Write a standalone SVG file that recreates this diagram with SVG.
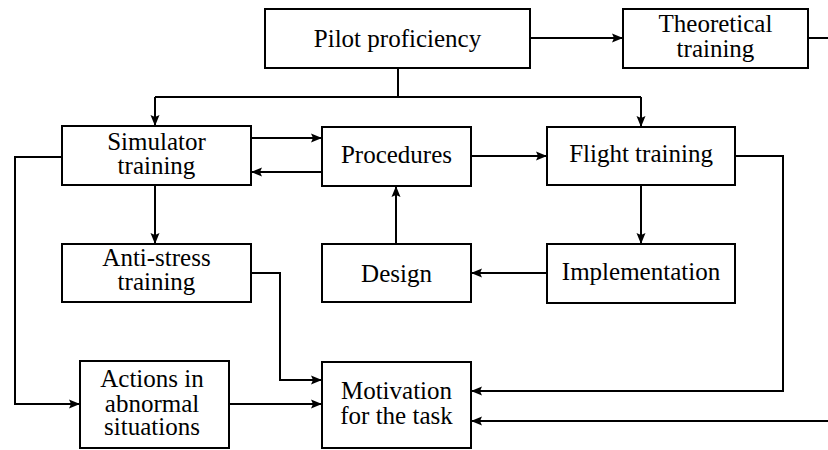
<svg xmlns="http://www.w3.org/2000/svg" width="828" height="450" viewBox="0 0 828 450">
<style>
.t{font-size:25px;text-anchor:middle;fill:#000}
.box{fill:#fff;stroke:#000;stroke-width:2}
.c{fill:none;stroke:#000;stroke-width:2}
</style>
<defs>
<marker id="ah" markerUnits="userSpaceOnUse" markerWidth="12" markerHeight="10" refX="11" refY="5" orient="auto">
<path d="M0,0.5 L11,5 L0,9.5 L2,5 Z" fill="#000"/>
</marker>
</defs>
<rect width="828" height="450" fill="#fff"/>
<g id="connectors">
<path class="c" d="M530,38 H623" marker-end="url(#ah)"/>
<path class="c" d="M808,38 H828"/>
<path class="c" d="M398,68 V97"/>
<path class="c" d="M155,97 H641"/>
<path class="c" d="M155,97 V126" marker-end="url(#ah)"/>
<path class="c" d="M641,97 V127" marker-end="url(#ah)"/>
<path class="c" d="M251,138 H322" marker-end="url(#ah)"/>
<path class="c" d="M322,172 H251" marker-end="url(#ah)"/>
<path class="c" d="M471,156 H547" marker-end="url(#ah)"/>
<path class="c" d="M641,185 V244" marker-end="url(#ah)"/>
<path class="c" d="M547,273 H471" marker-end="url(#ah)"/>
<path class="c" d="M396,244 V186" marker-end="url(#ah)"/>
<path class="c" d="M155,185 V244" marker-end="url(#ah)"/>
<path class="c" d="M62,157 H15 V404 H80" marker-end="url(#ah)"/>
<path class="c" d="M251,273 H280 V380 H322" marker-end="url(#ah)"/>
<path class="c" d="M229,404 H322" marker-end="url(#ah)"/>
<path class="c" d="M735,156 H783 V391 H471" marker-end="url(#ah)"/>
<path class="c" d="M828,421 H471" marker-end="url(#ah)"/>
</g>
<g font-family="Liberation Serif, DejaVu Serif, serif">
<g id="pilot"><rect class="box" x="265" y="9" width="265" height="59"/><text class="t" x="397.5" y="47">Pilot proficiency</text></g>
<g id="theoretical"><rect class="box" x="623" y="9" width="185" height="59"/><text class="t" x="715.5" y="32">Theoretical</text><text class="t" x="715.5" y="57">training</text></g>
<g id="simulator"><rect class="box" x="62" y="126" width="189" height="59"/><text class="t" x="156.5" y="150">Simulator</text><text class="t" x="156.5" y="174">training</text></g>
<g id="procedures"><rect class="box" x="322" y="127" width="149" height="59"/><text class="t" x="396.5" y="163">Procedures</text></g>
<g id="flight"><rect class="box" x="547" y="127" width="188" height="58"/><text class="t" x="641" y="162">Flight training</text></g>
<g id="antistress"><rect class="box" x="62" y="244" width="189" height="58"/><text class="t" x="156.5" y="266">Anti-stress</text><text class="t" x="156.5" y="290">training</text></g>
<g id="design"><rect class="box" x="322" y="244" width="149" height="58"/><text class="t" x="396.5" y="282">Design</text></g>
<g id="implementation"><rect class="box" x="547" y="244" width="188" height="59"/><text class="t" x="641" y="280">Implementation</text></g>
<g id="actions"><rect class="box" x="80" y="361" width="149" height="87"/><text class="t" x="152" y="387">Actions in</text><text class="t" x="152" y="412">abnormal</text><text class="t" x="152" y="435">situations</text></g>
<g id="motivation"><rect class="box" x="322" y="362" width="149" height="86"/><text class="t" x="396.5" y="399">Motivation</text><text class="t" x="396.5" y="424">for the task</text></g>
</g>
</svg>
